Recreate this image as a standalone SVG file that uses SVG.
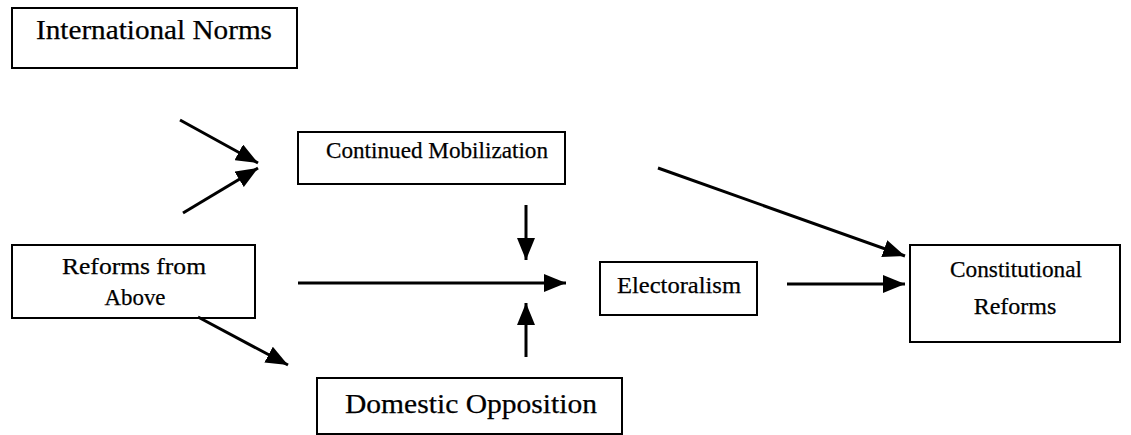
<svg xmlns="http://www.w3.org/2000/svg" width="1131" height="435" viewBox="0 0 1131 435">
  <defs>
    <style>
      .box { fill: #fff; stroke: #000; stroke-width: 2; }
      .lbl { font-family: "Liberation Serif", "Times New Roman", serif; font-size: 24px; fill: #000; stroke: #000; stroke-width: 0.25; text-anchor: middle; }
      .big { font-size: 27px; }
      .edge { stroke: #000; stroke-width: 3; fill: none; }
    </style>
    <marker id="tip" viewBox="0 0 22 18" markerWidth="22" markerHeight="18" refX="22" refY="9" orient="auto" markerUnits="userSpaceOnUse">
      <path d="M0,0 L22,9 L0,18 Z" fill="#000"/>
    </marker>
  </defs>
  <rect width="1131" height="435" fill="#fff"/>

  <g id="international-norms">
    <rect class="box" x="12" y="8" width="285" height="60"/>
    <text class="lbl big" x="154" y="39" textLength="236" lengthAdjust="spacingAndGlyphs">International Norms</text>
  </g>
  <g id="continued-mobilization">
    <rect class="box" x="298" y="132" width="267" height="52"/>
    <text class="lbl" x="437" y="158" textLength="222" lengthAdjust="spacingAndGlyphs">Continued Mobilization</text>
  </g>
  <g id="reforms-from-above">
    <rect class="box" x="12" y="245" width="243" height="73"/>
    <text class="lbl" x="134" y="274" textLength="144" lengthAdjust="spacingAndGlyphs">Reforms from</text>
    <text class="lbl" x="135" y="305" textLength="61" lengthAdjust="spacingAndGlyphs">Above</text>
  </g>
  <g id="electoralism">
    <rect class="box" x="600" y="262" width="157" height="53"/>
    <text class="lbl" x="679" y="293" textLength="124" lengthAdjust="spacingAndGlyphs">Electoralism</text>
  </g>
  <g id="constitutional-reforms">
    <rect class="box" x="910" y="245" width="210" height="97"/>
    <text class="lbl" x="1016" y="277" textLength="132" lengthAdjust="spacingAndGlyphs">Constitutional</text>
    <text class="lbl" x="1015" y="314">Reforms</text>
  </g>
  <g id="domestic-opposition">
    <rect class="box" x="317" y="378" width="305" height="56"/>
    <text class="lbl big" x="471" y="413" textLength="252" lengthAdjust="spacingAndGlyphs">Domestic Opposition</text>
  </g>

  <g id="connectors">
    <line class="edge" x1="180" y1="120" x2="258" y2="163" marker-end="url(#tip)"/>
    <line class="edge" x1="183" y1="213" x2="258" y2="168" marker-end="url(#tip)"/>
    <line class="edge" x1="658" y1="168" x2="905" y2="256" marker-end="url(#tip)"/>
    <line class="edge" x1="526" y1="205" x2="526" y2="260" marker-end="url(#tip)"/>
    <line class="edge" x1="298" y1="283" x2="566" y2="283" marker-end="url(#tip)"/>
    <line class="edge" x1="526" y1="357" x2="526" y2="303" marker-end="url(#tip)"/>
    <line class="edge" x1="787" y1="284" x2="905" y2="284" marker-end="url(#tip)"/>
    <line class="edge" x1="198" y1="317" x2="288" y2="365" marker-end="url(#tip)"/>
  </g>
</svg>
